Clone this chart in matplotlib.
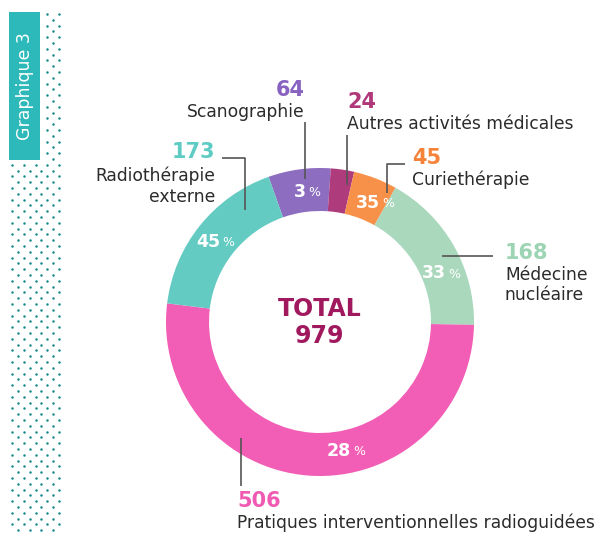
import numpy as np
import matplotlib
matplotlib.use("Agg")
import matplotlib.pyplot as plt
from matplotlib.patches import Rectangle

# data
categories = ["Scanographie", "Autres activités médicales", "Curiethérapie",
              "Médecine\nnucléaire", "Pratiques interventionnelles radioguidées",
              "Radiothérapie\nexterne"]
counts = [64, 24, 45, 168, 506, 173]
pct_labels = ["3", "", "35", "33", "28", "45"]
total = 979

ring_colors = ["#8C6DC0", "#AE3B7C", "#F7914A", "#A9D8BD", "#F25DB5", "#64CBC3"]
num_colors = ["#8862C1", "#B0387A", "#F5843A", "#9DD5B4", "#F05AB3", "#5FCCC4"]

W, H = 600, 534
FONT = "DejaVu Sans"
TXT = "#2b2b2b"
LINE = "#555555"


def Y(y):
    return H - y


fig = plt.figure(figsize=(6, 5.34), dpi=100)
ax = fig.add_axes([0, 0, 1, 1])

cx, cy, r_out, ring_w = 320, 322, 154, 43
wedges, _ = ax.pie(counts, colors=ring_colors, startangle=109.5, counterclock=False,
                   radius=r_out, center=(cx, Y(cy)),
                   wedgeprops=dict(width=ring_w, edgecolor="none"))
ax.set_xlim(0, W)
ax.set_ylim(0, H)
ax.set_aspect("equal")
ax.axis("off")

# percent labels inside the ring
pct_shift = [0, 0, -4, -8, 16, 1]
r_lab = r_out - ring_w / 2 - 1
for w, lab, sh in zip(wedges, pct_labels, pct_shift):
    if not lab:
        continue
    ang = np.deg2rad((w.theta1 + w.theta2) / 2 + sh)
    x = cx + r_lab * np.cos(ang)
    y = Y(cy) + r_lab * np.sin(ang)
    ax.text(x + 4, y, lab, color="white", fontsize=12.5, fontweight="bold",
            ha="right", va="center", family=FONT)
    ax.text(x + 6, y - 1, "%", color="white", fontsize=9,
            ha="left", va="center", family=FONT)

# centre total
ax.text(cx, Y(316), "TOTAL", color="#A0195F", fontsize=17, fontweight="bold",
        ha="center", va="baseline", family=FONT)
ax.text(cx, Y(343), str(total), color="#A0195F", fontsize=17, fontweight="bold",
        ha="center", va="baseline", family=FONT)

# outside labels: (x, number baseline, first label baseline, align)
label_pos = [(305, 96, 117, "right"), (347, 108, 129, "left"), (412, 164, 185, "left"),
             (505, 259, 280, "left"), (237, 507, 528, "left"), (215, 158, 181, "right")]
for (x, yn, yl, ha), name, n, col in zip(label_pos, categories, counts, num_colors):
    ax.text(x, Y(yn), str(n), color=col, fontsize=15, fontweight="bold",
            ha=ha, va="baseline", family=FONT)
    for k, line in enumerate(name.split("\n")):
        ax.text(x, Y(yl + 20.5 * k), line, color=TXT, fontsize=12.3, ha=ha,
                va="baseline", family=FONT)

# leader lines
leaders = [
    [(305, 122), (305, 179)],
    [(347, 135), (347, 185)],
    [(405, 164), (387, 164), (387, 193)],
    [(493, 256), (442, 256)],
    [(241, 486), (241, 438)],
    [(222, 158), (245, 158), (245, 210)],
]
for pts in leaders:
    xs = [p[0] for p in pts]
    ys = [Y(p[1]) for p in pts]
    ax.plot(xs, ys, color=LINE, lw=1.2, solid_capstyle="butt")

# dotted side band
for i, yy in enumerate(np.arange(14, H, 5.8)):
    xs = np.arange(12.3, 60, 11.6) if i % 2 == 0 else np.arange(18.1, 60, 11.6)
    if yy < 162:
        xs = xs[xs > 42]
    ax.scatter(xs, np.full(len(xs), Y(yy)), s=3.2, color="#17888A", lw=0)

# title tab
ax.add_patch(Rectangle((9, Y(160)), 31, 148, color="#2DB8BA", lw=0))
ax.text(25, Y(86), "Graphique 3", color="white", fontsize=12.5, rotation=90,
        ha="center", va="center", family=FONT)

fig.savefig("out.png", dpi=100)
